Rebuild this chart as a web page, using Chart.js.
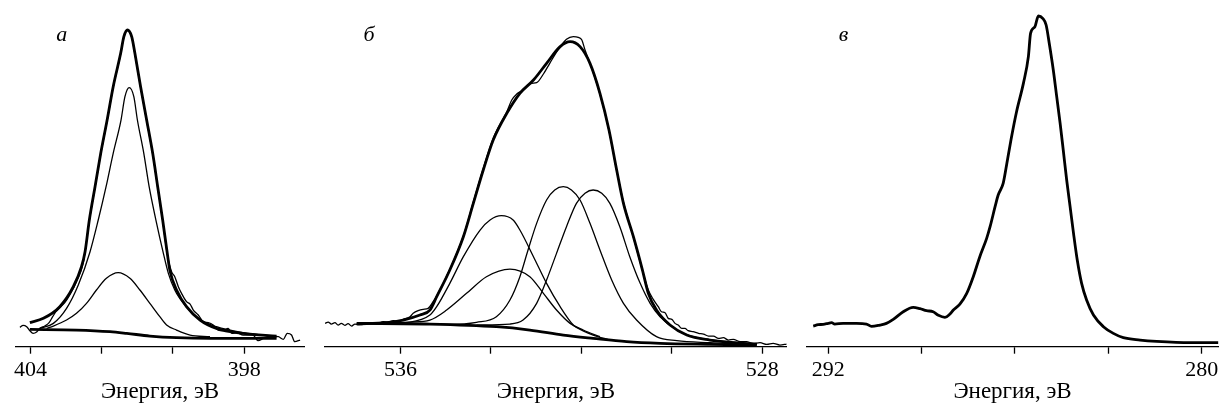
<!DOCTYPE html>
<html lang="ru">
<head>
<meta charset="utf-8">
<script src="https://cdn.jsdelivr.net/npm/chart.js@4.4.1/dist/chart.umd.min.js"></script>
<style>
  html, body { margin: 0; padding: 0; background: #fff; }
  #wrap { position: relative; width: 1222px; height: 408px; overflow: hidden; }
  #wrap canvas { position: absolute; top: 0; }
</style>
</head>
<body>
<div id="wrap">
  <canvas id="chartN" width="310" height="408" style="left:0"></canvas>
  <canvas id="chartO" width="480" height="408" style="left:310px"></canvas>
  <canvas id="chartC" width="432" height="408" style="left:790px"></canvas>
</div>
<script>
// N 1s: [binding energy, eV; intensity, a.u.]
const nRaw = [
  [404.30,58],[404.21,64],[404.11,60],[404.02,48],[403.93,40],[403.83,44],[403.74,55],[403.60,62],
  [403.48,72],[403.38,90],[403.29,105],[403.18,117],[403.04,132],[402.90,155],[402.71,195],[402.52,252],
  [402.35,378],[402.19,478],[402.03,578],[401.85,678],[401.68,778],[401.47,878],[401.38,928],[401.28,948],
  [401.16,928],[401.07,878],[400.91,778],[400.74,678],[400.57,578],[400.43,478],[400.29,378],[400.16,278],
  [400.04,225],[399.95,210],[399.85,180],[399.76,160],[399.62,135],[399.52,128],[399.43,110],[399.29,95],
  [399.15,75],[399.01,72],[398.87,65],[398.73,50],[398.59,48],[398.45,55],[398.35,40],[398.21,42],
  [398.03,35],[397.75,35],[397.61,18],[397.46,25],[397.28,32],[397.04,30],[396.90,22],[396.79,40],
  [396.67,35],[396.58,15],[396.43,20]
];
const nEnvelope = [
  [404.02,72],[403.64,85],[403.18,120],[402.80,180],[402.57,240],[402.47,285],[402.35,380],[402.19,480],
  [402.03,580],[401.85,680],[401.68,780],[401.47,880],[401.38,930],[401.28,950],[401.16,930],[401.07,880],
  [400.91,780],[400.74,680],[400.57,580],[400.43,480],[400.29,380],[400.16,280],[400.09,230],[399.90,170],
  [399.62,120],[399.24,80],[398.78,55],[398.03,40],[397.09,32]
];
const nPeak1 = [
  [403.74,55],[403.36,70],[402.99,115],[402.66,185],[402.33,285],[402.10,380],[401.88,480],[401.68,580],
  [401.46,680],[401.35,750],[401.23,777],[401.10,750],[401.00,680],[400.82,580],[400.67,480],[400.48,380],
  [400.27,280],[400.13,220],[399.95,170],[399.67,125],[399.29,85],[398.78,60],[398.03,42],[397.09,30]
];
const nPeak2 = [
  [403.55,55],[403.36,62],[402.99,80],[402.71,100],[402.43,130],[402.15,170],[401.87,205],[401.54,222],
  [401.21,205],[400.93,170],[400.65,130],[400.37,90],[400.18,65],[399.90,50],[399.52,35],[398.96,30]
];
const nBackground = [
  [404.02,52],[402.71,50],[401.77,45],[401.30,40],[400.65,32],[399.90,27],[398.96,25],[397.09,25]
];

// O 1s
const oRaw = [
  [537.67,70],[537.60,74],[537.53,68],[537.45,72],[537.38,65],[537.31,70],[537.23,64],[537.16,69],
  [537.08,62],[537.01,68],[536.90,66],[536.68,70],[536.53,68],[536.38,75],[536.27,74],[536.16,78],
  [536.05,77],[535.94,82],[535.79,90],[535.72,100],[535.61,108],[535.50,112],[535.39,115],[535.28,135],
  [535.20,152],[534.91,232],[534.61,332],[534.39,434],[534.17,535],[533.95,625],[533.65,705],[533.54,740],
  [533.43,758],[533.32,768],[533.21,782],[533.10,790],[532.99,792],[532.84,818],[532.70,850],[532.51,892],
  [532.33,922],[532.18,930],[532.07,928],[531.99,920],[531.92,890],[531.81,850],[531.59,758],[531.39,648],
  [531.22,528],[531.06,428],[530.85,328],[530.65,228],[530.52,170],[530.41,142],[530.30,120],[530.23,105],
  [530.15,102],[530.08,85],[530.00,82],[529.93,70],[529.86,65],[529.78,55],[529.71,55],[529.64,48],
  [529.53,45],[529.41,40],[529.30,38],[529.19,32],[529.08,32],[528.97,25],[528.86,27],[528.75,20],
  [528.64,22],[528.49,15],[528.35,15],[528.20,10],[528.05,12],[527.90,7],[527.76,10],[527.61,5],[527.46,8]
];
const oEnvelope = [
  [536.97,68],[536.31,72],[535.94,80],[535.57,95],[535.35,110],[535.20,150],[534.91,230],[534.61,330],
  [534.39,430],[534.17,530],[533.95,620],[533.65,700],[533.36,760],[533.06,800],[532.77,850],[532.47,900],
  [532.25,915],[532.03,900],[531.81,850],[531.59,760],[531.39,650],[531.22,530],[531.07,430],[530.85,330],
  [530.65,230],[530.52,160],[530.34,110],[530.04,65],[529.67,35],[529.16,20],[528.42,10],[528.12,8]
];
const oPeak1 = [
  [536.31,71],[535.79,74],[535.35,95],[535.20,120],[534.91,190],[534.61,270],[534.24,350],[534.02,380],
  [533.77,393],[533.51,380],[533.36,350],[533.06,270],[532.77,190],[532.47,120],[532.18,65],[532.11,58],
  [531.74,35],[531.37,20]
];
const oPeak2 = [
  [536.31,71],[535.79,74],[535.35,80],[534.98,110],[534.54,160],[534.10,210],[533.58,233],[533.14,210],
  [532.84,160],[532.55,110],[532.25,70],[531.96,50],[531.59,30]
];
const oPeak3 = [
  [535.57,70],[534.91,67],[534.32,73],[533.88,90],[533.58,140],[533.36,210],[533.18,290],[532.99,370],
  [532.77,440],[532.59,470],[532.40,480],[532.22,470],[532.03,440],[531.81,370],[531.59,290],[531.33,200],
  [531.07,130],[530.78,80],[530.34,30],[529.89,18],[529.16,12],[528.42,8]
];
const oPeak4 = [
  [534.32,65],[533.58,68],[533.29,80],[532.99,130],[532.77,200],[532.55,280],[532.33,360],[532.11,430],
  [531.92,460],[531.74,470],[531.55,460],[531.37,430],[531.15,360],[530.93,270],[530.70,190],[530.48,130],
  [530.26,90],[529.89,50],[529.53,30],[528.79,15],[528.12,8]
];
const oBackground = [
  [536.97,70],[535.35,68],[533.88,60],[533.14,50],[532.40,35],[531.74,25],[531.00,15],[530.26,10],
  [529.16,7],[528.12,5]
];

// C 1s
const cSpectrum = [
  [292.48,62],[292.32,66],[292.16,67],[292.00,70],[291.89,72],[291.79,68],[291.52,70],[291.09,70],
  [290.77,68],[290.61,61],[290.34,65],[290.13,70],[289.91,82],[289.59,105],[289.27,118],[289.05,114],
  [288.84,108],[288.63,105],[288.46,94],[288.25,88],[288.09,98],[287.98,110],[287.77,128],[287.55,160],
  [287.34,210],[287.13,270],[286.91,325],[286.80,360],[286.64,420],[286.54,455],[286.38,490],[286.27,545],
  [286.11,630],[285.95,705],[285.73,790],[285.57,870],[285.50,940],[285.36,960],[285.25,992],[285.11,985],
  [285.00,965],[284.90,910],[284.77,830],[284.66,750],[284.55,670],[284.45,590],[284.34,500],[284.23,420],
  [284.12,340],[284.00,260],[283.86,190],[283.70,140],[283.48,95],[283.16,60],[282.84,40],[282.52,27],
  [281.98,20],[281.45,16],[280.38,12],[279.46,12]
];

// axis ticks (every tick is marked, only the outer ones carry a label)
const nTicks = [404, 402, 400, 398];
const nTickLabels = [404, 398];
const oTicks = [536, 534, 532, 530, 528];
const oTickLabels = [536, 528];
const cTicks = [292, 289, 286, 283, 280];
const cTickLabels = [292, 280];

const SERIF = '"Liberation Serif", "Times New Roman", serif';

const panelLetter = {
  id: 'panelLetter',
  afterDraw(chart, args, opts) {
    const ctx = chart.ctx;
    ctx.save();
    ctx.font = 'italic 22px ' + SERIF;
    ctx.fillStyle = '#000';
    ctx.textAlign = 'center';
    ctx.textBaseline = 'alphabetic';
    ctx.fillText(opts.text, chart.chartArea.left + opts.dx, opts.y);
    ctx.restore();
  }
};

function curve(points, thick) {
  return {
    data: points.map(p => ({ x: p[0], y: p[1] })),
    borderColor: '#000',
    borderWidth: thick ? 2.8 : 1.3,
    pointRadius: 0,
    fill: false,
    cubicInterpolationMode: 'monotone'
  };
}

function spectrumChart(id, datasets, ax) {
  return new Chart(document.getElementById(id), {
    type: 'line',
    data: { datasets },
    options: {
      responsive: false,
      animation: false,
      devicePixelRatio: 1,
      layout: { padding: { left: ax.padLeft, right: ax.padRight, top: 10, bottom: 0 } },
      plugins: {
        legend: { display: false },
        tooltip: { enabled: false },
        panelLetter: { text: ax.letter, dx: ax.letterX, y: 40.5 }
      },
      scales: {
        x: {
          type: 'linear',
          reverse: true,
          min: ax.min,
          max: ax.max,
          afterBuildTicks: s => { s.ticks = ax.ticks.map(v => ({ value: v })); },
          afterFit: s => { s.height = 61.3; },
          ticks: {
            autoSkip: false,
            maxRotation: 0,
            padding: 3,
            color: '#000',
            font: { family: SERIF, size: 22 },
            callback: v => ax.labels.includes(v) ? String(v) : ''
          },
          grid: {
            drawOnChartArea: false,
            drawTicks: true,
            tickLength: 7,
            tickWidth: 1.3,
            color: '#000',
            tickColor: '#000'
          },
          border: { display: true, color: '#000', width: 1.3 },
          title: {
            display: true,
            text: 'Энергия, эВ',
            color: '#000',
            font: { family: SERIF, size: 23 },
            padding: { top: 0, bottom: 2.5 }
          }
        },
        y: { display: false, min: 0, max: 1010 }
      }
    },
    plugins: [panelLetter]
  });
}

spectrumChart('chartN', [
  curve(nRaw, false),
  curve(nPeak1, false),
  curve(nPeak2, false),
  curve(nEnvelope, true),
  curve(nBackground, true)
], { min: 396.32, max: 404.41, ticks: nTicks, labels: nTickLabels,
     padLeft: 16, padRight: 6, letter: 'а', letterX: 45.7 });

spectrumChart('chartO', [
  curve(oRaw, false),
  curve(oPeak1, false),
  curve(oPeak2, false),
  curve(oPeak3, false),
  curve(oPeak4, false),
  curve(oEnvelope, true),
  curve(oBackground, true)
], { min: 527.46, max: 537.67, ticks: oTicks, labels: oTickLabels,
     padLeft: 15, padRight: 3.3, letter: 'б', letterX: 44 });

spectrumChart('chartC', [
  curve(cSpectrum, true)
], { min: 279.47, max: 292.69, ticks: cTicks, labels: cTickLabels,
     padLeft: 16.7, padRight: 3.7, letter: 'в', letterX: 36.8 });
</script>
</body>
</html>
